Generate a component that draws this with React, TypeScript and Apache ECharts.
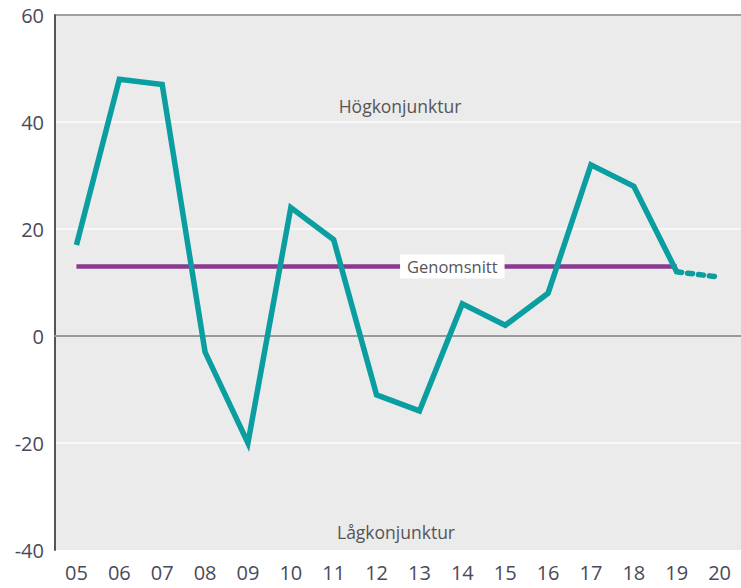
import React, { useEffect, useRef } from "react";
import * as echarts from "echarts";

const years = ["05", "06", "07", "08", "09", "10", "11", "12", "13", "14", "15", "16", "17", "18", "19", "20"];
const values = [17, 48, 47, -3, -20, 24, 18, -11, -14, 6, 2, 8, 32, 28, 12, null];
const forecast = [null, null, null, null, null, null, null, null, null, null, null, null, null, null, 12, 11];
const averageValue = 13;
const averageLabel = "Genomsnitt";
const averageLabelYear = "14";
const highLabel = "Högkonjunktur";
const lowLabel = "Lågkonjunktur";
const yTicks = [-40, -20, 0, 20, 40, 60];

export default function App() {
  const ref = useRef<HTMLDivElement>(null);
  useEffect(() => {
    const chart = echarts.init(ref.current!, null, { renderer: "svg" });
    const avgData = years.map((_, i) => (i <= 14 ? averageValue : null));
    chart.setOption({
      animation: false,
      grid: { left: 55, top: 15, width: 688, height: 535, backgroundColor: "#ebebeb", show: true, borderWidth: 0 },
      xAxis: {
        type: "category",
        data: years,
        boundaryGap: true,
        axisLine: { show: true, lineStyle: { color: "#999", width: 2 } },
        axisTick: { show: false },
        axisLabel: { color: "#4a4a5a", fontSize: 20, fontFamily: "Open Sans", margin: 12 },
      },
      yAxis: {
        type: "value",
        min: yTicks[0],
        max: yTicks[yTicks.length - 1],
        interval: 20,
        axisLine: { show: true, lineStyle: { color: "#555", width: 2 } },
        axisTick: { show: false },
        axisLabel: { color: "#4a4a5a", fontSize: 20, fontFamily: "Open Sans", margin: 11 },
        splitLine: {
          show: true,
          lineStyle: {
            color: ["transparent", "#f8f8f8", "#8a8a8a", "#f8f8f8", "#f8f8f8", "#a0a0a0"],
            width: 2,
          },
        },
      },
      series: [
        {
          type: "line",
          data: avgData,
          symbol: "none",
          lineStyle: { color: "#8b3a92", width: 4.5 },
          z: 2,
          markPoint: {
            symbol: "rect",
            symbolSize: 0,
            data: [{ coord: [averageLabelYear, averageValue] }],
            label: {
              show: true,
              position: "inside",
              offset: [-10, 0],
              formatter: averageLabel,
              backgroundColor: "#ffffff",
              padding: [4, 7, 3, 7],
              color: "#555",
              fontSize: 16.5,
              fontFamily: "Open Sans",
            },
          },
        },
        {
          type: "line",
          data: values,
          symbol: "none",
          lineStyle: { color: "#0a9ea0", width: 5.5, join: "miter" },
          z: 3,
        },
        {
          type: "line",
          data: forecast,
          symbol: "none",
          lineStyle: { color: "#0a9ea0", width: 5.5, type: [5, 6], cap: "round" },
          z: 3,
        },
      ],
      graphic: [
        {
          type: "text",
          x: 400,
          y: 106,
          style: { text: highLabel, fill: "#555", font: "17.5px 'Open Sans'", align: "center", verticalAlign: "middle" },
        },
        {
          type: "text",
          x: 396,
          y: 532,
          style: { text: lowLabel, fill: "#555", font: "17.5px 'Open Sans'", align: "center", verticalAlign: "middle" },
        },
      ],
    });
    return () => chart.dispose();
  }, []);
  return <div ref={ref} style={{ position: "fixed", left: 0, top: 0, width: 741, height: 588, background: "#fff" }} />;
}
